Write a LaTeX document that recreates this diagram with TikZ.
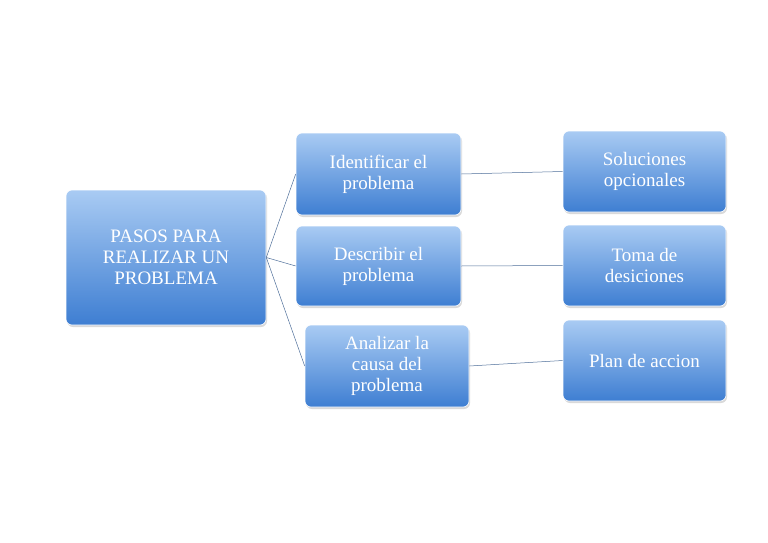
\documentclass[tikz,border=0pt]{standalone}
\usepackage{fontspec}
\setmainfont{Liberation Serif}
\usetikzlibrary{shadows}
\definecolor{topc}{HTML}{A9CBF3}
\definecolor{botc}{HTML}{3E7ED2}
\definecolor{linec}{HTML}{4F6F9A}
\tikzset{bx/.style={rounded corners=6pt, top color=topc, bottom color=botc, draw=white, line width=0.6pt,
  drop shadow={shadow xshift=1pt, shadow yshift=-2pt, opacity=0.3},
  text=white, font=\fontsize{19}{21}\selectfont, align=center, inner sep=2pt},
  cn/.style={draw=linec, line width=0.5pt}}
\begin{document}
\begin{tikzpicture}[x=1pt,y=-1pt]
\useasboundingbox (0,0) rectangle (768,543);
\node[bx, minimum width=200pt, minimum height=135pt] (m) at (166,257.5) {PASOS PARA\\REALIZAR UN\\PROBLEMA};
\node[bx, minimum width=165pt, minimum height=82pt] (a) at (378.5,174) {Identificar el\\problema};
\node[bx, minimum width=165pt, minimum height=80pt] (b) at (378.5,266) {Describir el\\problema};
\node[bx, minimum width=164pt, minimum height=82pt] (c) at (387,366) {Analizar la\\causa del\\problema};
\node[bx, minimum width=163pt, minimum height=81pt] (d) at (644.5,171.5) {Soluciones\\opcionales};
\node[bx, minimum width=163pt, minimum height=81pt] (e) at (644.5,265.5) {Toma de\\desiciones};
\node[bx, minimum width=163pt, minimum height=81pt] (f) at (644.5,360.5) {Plan de accion};
\draw[cn] (m.east) -- (a.west);
\draw[cn] (m.east) -- (b.west);
\draw[cn] (m.east) -- (c.west);
\draw[cn] (a.east) -- (d.west);
\draw[cn] (b.east) -- (e.west);
\draw[cn] (c.east) -- (f.west);
\end{tikzpicture}
\end{document}
